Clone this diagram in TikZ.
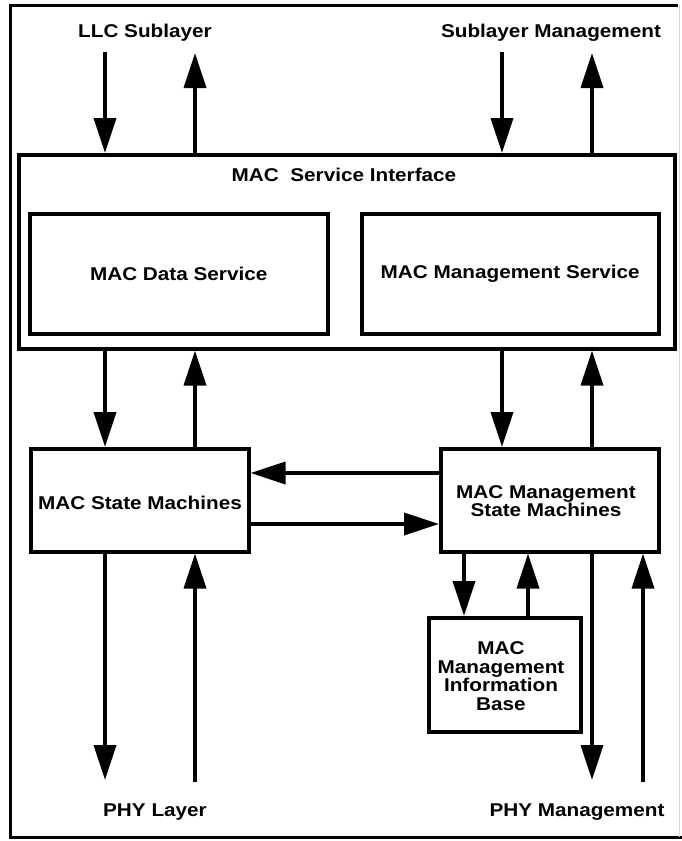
\documentclass[tikz,border=0pt]{standalone}
\usepackage{fontspec}
\setmainfont{Liberation Sans}[FakeStretch=1.12]
\usetikzlibrary{arrows.meta}
\begin{document}
\begin{tikzpicture}[x=1pt,y=-1pt,
  lbl/.style={font=\fontsize{18.5}{18.5}\selectfont\bfseries, align=center, inner sep=0pt},
  box/.style={draw, line width=3.5pt, anchor=north west, inner sep=0pt},
  arr/.style={line width=3.5pt, -{Triangle[length=35pt,width=22pt]}},
  frame/.style={line width=3pt}]
\useasboundingbox (0,0) rectangle (682,841);
\draw[frame] (678,5) -- (10,5) -- (10,837) -- (682,837);
\draw[black!15, line width=1pt] (679,5) -- (679,837);

% boxes
\node[box, minimum width=656pt, minimum height=194pt] (msi) at (17,153) {};
\node[lbl] (msititle) at (344,175) {MAC\ \ Service Interface};
\node[box, minimum width=298pt, minimum height=120pt] (mds) at (28,212) {};
\node[lbl] at (mds.center) {MAC Data Service};
\node[box, minimum width=297pt, minimum height=120pt] (mms) at (360,212) {};
\node[lbl] at (mms.center) {MAC Management Service};
\node[box, minimum width=218pt, minimum height=103pt] (msm) at (29,447) {};
\node[lbl] (msmtext) at (140,503) {MAC State Machines};
\node[box, minimum width=218pt, minimum height=103pt] (mmsm) at (439,447) {};
\node[lbl] (mmsmtext) at (546,501) {MAC Management\\State Machines};
\node[box, minimum width=152pt, minimum height=114pt] (mib) at (427,616) {};
\node[lbl] (mibtext) at (501,676) {MAC\\Management\\Information\\Base};

% external labels
\node[lbl] (llc) at (145,33) {LLC Sublayer};
\node[lbl] (slm) at (551,33) {Sublayer Management};
\node[lbl] (phy) at (155,812) {PHY Layer};
\node[lbl] (phym) at (577,812) {PHY Management};

% top arrows
\coordinate (llcdn) at (105,52);
\coordinate (llcup) at (195,53);
\coordinate (slmdn) at (502,52);
\coordinate (slmup) at (592,53);
\draw[arr] (llcdn) -- (llcdn |- msi.north);
\draw[arr] (llcup |- msi.north) -- (llcup);
\draw[arr] (slmdn) -- (slmdn |- msi.north);
\draw[arr] (slmup |- msi.north) -- (slmup);

% service interface to state machines
\draw[arr] (llcdn |- msi.south) -- (llcdn |- msm.north);
\draw[arr] (llcup |- msm.north) -- (llcup |- msi.south);
\draw[arr] (slmdn |- msi.south) -- (slmdn |- mmsm.north);
\draw[arr] (slmup |- mmsm.north) -- (slmup |- msi.south);

% horizontal arrows
\coordinate (hup) at (0,473);
\coordinate (hdn) at (0,524);
\draw[arr] (hup -| mmsm.west) -- (hup -| msm.east);
\draw[arr] (hdn -| msm.east) -- (hdn -| mmsm.west);

% mgmt state machines to MIB
\coordinate (mibdn) at (464,0);
\coordinate (mibup) at (528,0);
\draw[arr] (mibdn |- mmsm.south) -- (mibdn |- mib.north);
\draw[arr] (mibup |- mib.north) -- (mibup |- mmsm.south);

% bottom arrows
\coordinate (phydn) at (105,780);
\coordinate (phyup) at (195,782);
\coordinate (phymdn) at (592,780);
\coordinate (phymup) at (643,782);
\draw[arr] (phydn |- msm.south) -- (phydn);
\draw[arr] (phyup) -- (phyup |- msm.south);
\draw[arr] (phymdn |- mmsm.south) -- (phymdn);
\draw[arr] (phymup) -- (phymup |- mmsm.south);
\end{tikzpicture}
\end{document}
